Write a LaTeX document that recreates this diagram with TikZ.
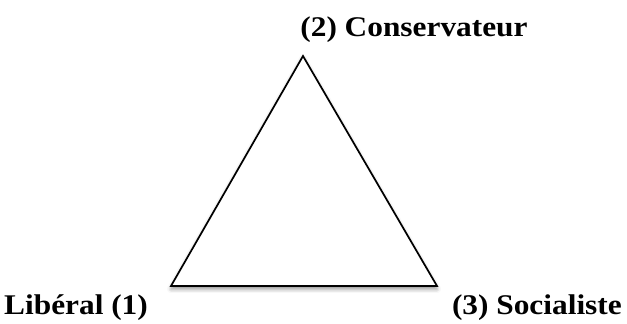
\documentclass[tikz,border=0pt]{standalone}
\usepackage{fontspec}
\setmainfont[FakeStretch=1.1]{Liberation Serif}
\usepackage{tikz}
\usetikzlibrary{shadows.blur,positioning}
\tikzset{
  pole/.style={font=\fontsize{28.5}{31}\selectfont\bfseries,inner sep=0pt},
}
\begin{document}
\begin{tikzpicture}[x=1pt,y=1pt]
\useasboundingbox (0,0) rectangle (627,324);
% sommets du triangle
\coordinate (top) at (303,268);
\coordinate (left) at (171,38);
\coordinate (right) at (437,38);
\draw[line width=1.7pt,line join=miter,fill=white,
  blur shadow={shadow xshift=0pt,shadow yshift=-3pt,shadow blur radius=4pt,shadow opacity=45}]
  (left) -- (top) -- (right) -- cycle;
\node[pole,anchor=base west] (lib) at (4,9) {Libéral (1)};
\node[pole,anchor=base] (cons) at (414,287) {(2) Conservateur};
\node[pole,anchor=base east] (soc) at (622,9) {(3) Socialiste};
\end{tikzpicture}
\end{document}
